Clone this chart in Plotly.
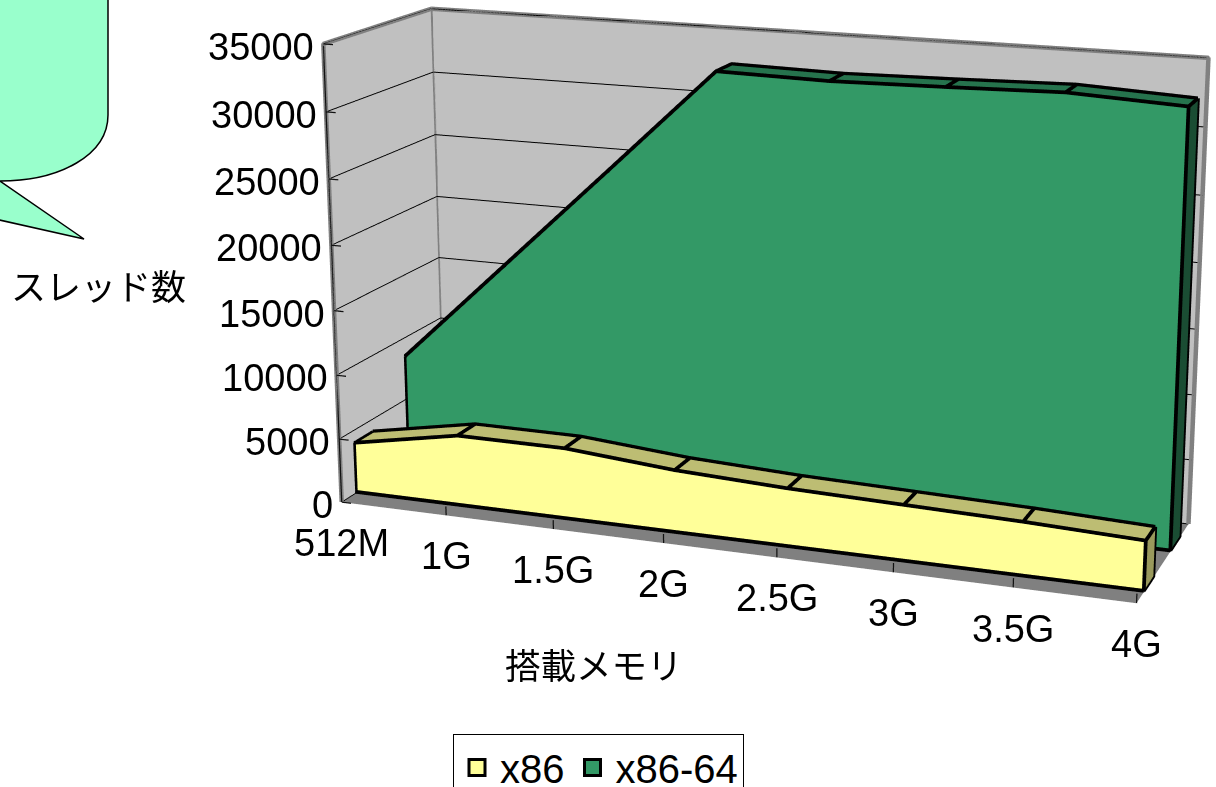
import plotly.graph_objects as go

categories = ["512M", "1G", "1.5G", "2G", "2.5G", "3G", "3.5G", "4G"]
yticks = [0, 5000, 10000, 15000, 20000, 25000, 30000, 35000]
x86 = [3930, 5470, 5460, 4770, 4400, 4200, 4000, 3690]
x64 = [8400, 16500, 24600, 32750, 32600, 32750, 32950, 32550]

PW, PH, TOP = 1604, 2318, -856
px = lambda x: x / PW
py = lambda y: 1 - (y - TOP) / PH
n = len(categories)
xs = list(range(n))


def line3(pts, color, w, off=(0, 0, 0)):
    return go.Scatter3d(x=[a[0] + off[0] if a else None for a in pts], y=[a[1] + off[1] if a else None for a in pts],
                        z=[a[2] + off[2] if a else None for a in pts], mode="lines",
                        line=dict(color=color, width=w), hoverinfo="skip", showlegend=False)


def prism(vals, y0, y1, cf, ct, cr, name):
    X = []; Y = []; Z = []
    for yy, top in [(y0, False), (y0, True), (y1, False), (y1, True)]:
        for i in xs:
            X.append(i); Y.append(yy); Z.append(vals[i] if top else 0)
    idx = lambda r, i: r * n + i
    I = []; J = []; K = []; C = []

    def quad(a, b, c, d, col):
        I.extend([a, a]); J.extend([b, c]); K.extend([c, d]); C.extend([col, col])

    for i in range(n - 1):
        quad(idx(0, i), idx(0, i + 1), idx(1, i + 1), idx(1, i), cf)
        quad(idx(1, i), idx(1, i + 1), idx(3, i + 1), idx(3, i), ct)
        quad(idx(2, i), idx(2, i + 1), idx(3, i + 1), idx(3, i), cf)
    quad(idx(0, n - 1), idx(2, n - 1), idx(3, n - 1), idx(1, n - 1), cr)
    quad(idx(0, 0), idx(2, 0), idx(3, 0), idx(1, 0), cr)
    m = go.Mesh3d(x=X, y=Y, z=Z, i=I, j=J, k=K, facecolor=C, flatshading=True, hoverinfo="skip", showlegend=False,
                  lighting=dict(ambient=1, diffuse=0, specular=0, roughness=1, fresnel=0), name=name)
    pts = []
    pts += [(i, y0, vals[i]) for i in xs] + [None]
    pts += [(i, y1, vals[i]) for i in xs] + [None]
    pts += [(0, y0, vals[0]), (0, y0, 0), (n - 1, y0, 0), (n - 1, y0, vals[-1]), None]
    for i in xs:
        pts += [(i, y0, vals[i]), (i, y1, vals[i]), None]
    pts += [(n - 1, y1, vals[-1]), (n - 1, y1, 0), (n - 1, y0, 0)]
    return [m, line3(pts, "black", 7.5, off=(0, -0.015, 100))]


fig = go.Figure()
for tr in prism(x86, 0.145, 0.320, "#FFFF99", "#BDBD73", "#99995C", "x86"):
    fig.add_trace(tr)
for tr in prism(x64, 0.646, 0.831, "#339966", "#26734D", "#1A4D33", "x86-64"):
    fig.add_trace(tr)

xe = n - 1
zmax = yticks[-1]
fig.add_trace(line3([(0, 0, 0), (0, 0, zmax), (0, 1, zmax), (xe, 1, zmax), (xe, 1, 0), None, (0, 1, zmax), (0, 1, 0)], "#808080", 9))
ticks = []
for v in yticks:
    ticks += [(0, 0, v), (0.09, 0, v), None]
for i in xs:
    ticks += [(i, 0, 0), (i, 0, 700), None]
ticks += [(0, 0, 0), (0, 0, zmax)]
fig.add_trace(line3(ticks, "#111111", 2.5))
fig.add_trace(go.Scatter(x=[None], y=[None], mode="markers", name="x86",
                         marker=dict(symbol="square", size=16, color="#FFFF99", line=dict(color="black", width=3))))
fig.add_trace(go.Scatter(x=[None], y=[None], mode="markers", name="x86-64",
                         marker=dict(symbol="square", size=16, color="#339966", line=dict(color="black", width=3))))

TF = "Liberation Sans, Arial, sans-serif"
ann = []
for v in yticks:
    ann.append(dict(x=0, y=0, z=v, text=str(v), showarrow=False, xanchor="right", yanchor="middle", xshift=-7, yshift=-3,
                    font=dict(family=TF, size=38, color="black")))
for i, c in zip(xs, categories):
    ann.append(dict(x=i, y=0, z=0, text=c, showarrow=False, xanchor="center", yanchor="middle", yshift=-41,
                    font=dict(family=TF, size=38, color="black")))
ax = dict(showbackground=True, backgroundcolor="#C0C0C0", showgrid=False, zeroline=False, showline=False,
          showticklabels=False, ticks="", showspikes=False, title=dict(text=""))
scene = dict(domain=dict(x=[0, 1], y=[0, 1]), aspectmode="manual", aspectratio=dict(x=2.1425, y=0.6034, z=1.2246),
             xaxis=dict(ax, range=[0, xe], tickvals=[]), yaxis=dict(ax, range=[0, 1], tickvals=[]),
             zaxis=dict(ax, range=[0, zmax], tickvals=yticks, showgrid=True, gridcolor="black", gridwidth=2, backgroundcolor="#808080"),
             camera=dict(eye=dict(x=2.3973, y=-6.5134, z=1.8232), center=dict(x=0.0028, y=0.307, z=-0.1195),
                         up=dict(x=-0.0905, y=0.2433, z=0.9657), projection=dict(type="perspective")),
             annotations=ann, bgcolor="rgba(0,0,0,0)")
path = (f"M {px(-5)},{py(-5)} L {px(108)},{py(-5)} L {px(108)},{py(115)} C {px(108)},{py(155)} {px(60)},{py(181)} {px(0)},{py(181)} "
        f"L {px(84)},{py(239)} L {px(-5)},{py(219)} Z")
fig.update_layout(width=PW, height=PH, margin=dict(l=0, r=0, t=0, b=0), paper_bgcolor="white", plot_bgcolor="white", scene=scene,
                  xaxis=dict(visible=False), yaxis=dict(visible=False), dragmode=False,
                  shapes=[dict(type="path", path=path, xref="paper", yref="paper", fillcolor="#99FFCC", line=dict(color="black", width=1.5))],
                  annotations=[dict(x=px(98), y=py(285), xref="paper", yref="paper", xanchor="center", yanchor="middle", text="スレッド数", showarrow=False,
                                    font=dict(family="Noto Sans CJK JP", size=35, color="black")),
                               dict(x=px(594), y=py(664), xref="paper", yref="paper", xanchor="center", yanchor="middle", text="搭載メモリ", showarrow=False,
                                    font=dict(family="Noto Sans CJK JP", size=35.5, color="black"))],
                  legend=dict(x=px(453), y=py(734), xanchor="left", yanchor="top", orientation="h", bgcolor="white", itemwidth=36,
                              bordercolor="black", borderwidth=1, font=dict(family=TF, size=40, color="black")),
                  showlegend=True)
post = (f"var g=document.getElementById('{{plot_id}}');g.style.position='absolute';g.style.left='0px';g.style.top='{TOP}px';"
        "document.documentElement.style.overflow='hidden';document.body.style.overflow='hidden';document.body.style.margin='0';")
fig.write_html("out.html", post_script=post)
